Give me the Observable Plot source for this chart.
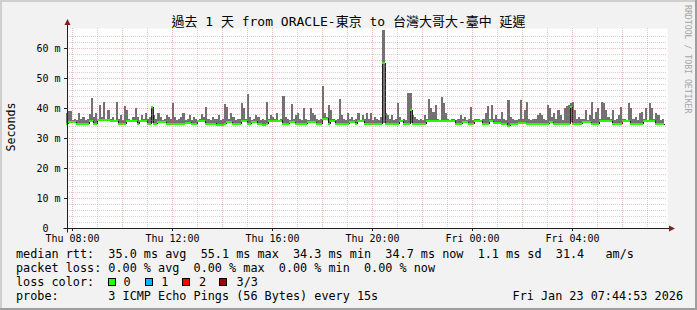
<!DOCTYPE html>
<html><head><meta charset="utf-8">
<script src="https://cdn.jsdelivr.net/npm/d3@7"></script>
<script src="https://cdn.jsdelivr.net/npm/@observablehq/plot@0.6"></script>
<style>
html,body{margin:0;padding:0;background:#f2f2f2;overflow:hidden;}
svg text{white-space:pre;}
</style>
</head><body><div id="chart"></div>
<script>
// ---- data (5-minute steps, values in ms) ----
const firstStepEnd = "2026-01-22T07:50:00Z";
const stepMinutes = 5;
const medianRtt = [
34.9,35.4,35.4,35.4,35.4,34.9,34.9,34.9,34.9,34.9,
34.9,35.8,35.8,34.9,34.9,36.3,36.3,36.3,36.3,36.3,
36.3,35.8,35.8,35.8,35.8,34.9,34.9,34.9,34.9,35.8,
35.8,35.8,35.8,35.8,34.9,36.0,36.0,36.0,36.0,34.9,
34.9,40.4,34.9,34.9,35.4,35.4,35.4,35.4,34.9,34.9,
34.9,34.9,34.9,34.9,34.9,34.9,34.9,35.2,35.2,35.2,
34.9,34.9,34.9,35.8,35.8,35.8,35.8,34.9,34.9,34.9,
34.9,34.9,34.6,34.6,34.6,34.6,34.9,35.4,35.4,35.4,
34.9,34.9,34.9,34.9,35.8,35.8,35.8,34.9,34.9,35.6,
35.6,35.6,34.9,34.9,34.6,34.6,34.9,36.0,36.0,36.0,
36.0,36.0,36.0,36.0,34.9,34.9,34.9,35.4,35.4,35.4,
34.9,34.9,34.9,34.9,34.9,34.9,35.4,35.4,35.4,35.4,
34.9,34.9,34.9,36.6,36.6,36.6,34.9,35.8,35.8,34.9,
34.9,34.9,34.9,34.9,34.9,34.9,35.4,35.4,35.4,34.9,
35.8,35.8,35.8,34.9,34.9,34.9,34.9,34.9,34.9,34.9,
34.9,34.9,55.1,34.9,34.9,34.9,34.9,34.9,34.9,34.9,
35.8,35.8,34.9,34.9,34.9,39.5,34.9,34.9,34.9,34.9,
34.9,34.9,34.9,35.8,35.8,35.8,36.0,36.0,36.0,36.0,
36.0,36.0,36.0,36.0,36.0,36.0,36.0,34.9,34.9,34.9,
35.4,35.4,35.4,34.9,34.9,34.9,35.8,35.8,35.8,35.8,
34.9,34.9,34.9,35.8,35.8,35.1,35.1,35.1,35.1,34.9,
34.9,34.9,34.3,34.9,34.9,34.9,34.9,35.1,35.1,35.1,
35.1,34.9,34.9,34.9,34.9,34.9,34.9,34.9,34.9,34.9,
34.9,34.9,35.4,35.4,34.9,34.9,34.9,34.9,34.9,34.9,
34.9,34.9,40.5,34.9,34.9,34.9,34.9,34.9,35.4,35.4,
35.4,35.4,34.9,34.9,34.9,34.9,35.8,35.8,35.8,35.8,
35.8,35.8,34.9,34.9,34.9,34.9,34.9,35.8,35.8,35.8,
35.8,34.9,34.9,34.9,34.9,34.9,34.9,36.0,36.0,36.0,
36.0,36.0,36.0,34.9,34.9,34.9,34.7
];
const maxRtt = [
38.5,39,39,36,36.5,36,38.2,36.5,37,36,
36.5,38,43.2,37,38.2,36.5,41,37,41.9,36.5,
39.3,36.5,37.1,36,42.1,36.5,37.7,36,40.8,39.3,
36.5,36,37.1,39.9,37,36,37.7,36.5,38.2,36.5,
37,40.7,37.7,36.5,38.2,37,36,36.5,37.7,37.1,
36.5,41.8,37,36,36.5,37,38.2,36,36.5,37.7,
36,37.1,36.5,36,36.5,38,37,40.4,36.5,36,
37.1,36.5,36.5,37.7,36,36.5,41.3,40.4,36.5,38.2,
37.1,36,36.5,36.5,41.8,39.9,36.5,44.7,37.1,36,
36.5,37.7,37.1,36,36.5,36,42.1,36.5,37.7,37.1,
36.5,38.2,36,36.5,44,37.1,36.5,36,41.3,36.5,
37.7,38.2,36.5,36,39.9,36.5,36,39.9,38.2,37.7,
36.5,36,36.5,47.5,38.2,37,41,39.3,36.5,36,
36.5,42.9,37.7,36.5,36,38.2,36.5,37.1,36,36.5,
38.2,36,37.7,36.5,38.2,36.5,38.2,36,37.1,36.5,
36,37.1,66,38.2,37.7,36.5,37.7,36,36.5,41.6,
37.1,36,36.5,36,45.1,44.9,37.7,37.1,36.5,36,
36.5,36,37.7,36.5,42.9,39.9,38.8,41,36.5,36,
43.8,41.8,38.2,36.5,36,36.5,36.5,36,36.5,37.7,
36.5,37.1,36,36.5,40.4,36,36.5,36.5,36.5,36,
36.5,38.2,40.7,36.5,41,36.5,37.7,36.5,36.5,38.8,
36.5,36,42.7,37.1,36.5,36,36,36.5,42.7,36.5,
39.3,42.1,36.5,36,36.5,36.5,37.7,38.2,37.7,36.5,
36,41,39.9,37.1,38.2,36.5,39.3,37.7,36,39.9,
40.7,41,41.6,42.1,39.3,36.5,37.1,36.5,36.5,39.3,
36,37.7,41.9,36.5,38.8,39.9,36.5,42.1,41.6,39.3,
37.1,36.5,39.3,36,36.5,37.7,40.4,36.5,36.5,36,
41.8,39.9,36.5,37.1,36,38.2,38.8,36.5,39.9,36,
41.8,39.9,36.5,38.2,37.7,36,36.5
];
const minRtt = [
34.5,34.9,35.0,34.9,35.0,34.5,34.6,34.5,34.5,34.4,
34.5,35.3,35.4,34.5,34.6,35.8,35.9,35.7,35.9,35.8,
35.9,35.3,35.4,35.3,35.5,34.5,34.6,34.4,34.5,35.3,
35.4,35.2,35.4,35.3,34.5,35.5,35.6,35.4,35.6,34.5,
34.4,35.1,34.5,34.6,34.9,35.0,34.9,35.0,34.5,34.5,
34.6,34.5,34.5,34.4,34.5,34.6,34.5,34.8,34.7,34.8,
34.5,34.6,34.5,35.3,35.4,35.3,35.4,34.5,34.6,34.5,
34.5,34.4,34.2,34.3,34.2,34.3,34.5,34.9,35.0,34.9,
34.5,34.6,34.5,34.5,35.3,35.4,35.3,34.5,34.6,35.2,
35.1,35.2,34.5,34.4,34.2,34.3,34.5,35.5,35.6,35.5,
35.6,35.5,35.6,35.5,34.5,34.6,34.5,34.9,35.0,34.9,
34.5,34.6,34.5,34.4,34.5,34.6,34.9,35.0,34.9,35.0,
34.5,34.4,34.5,36.1,36.2,36.1,34.5,35.3,35.4,34.5,
34.6,34.5,34.5,34.4,34.6,34.5,34.9,35.0,34.9,34.5,
35.3,35.4,35.3,34.5,34.6,34.5,34.5,34.4,34.5,34.6,
34.5,34.5,35.0,34.5,34.6,34.5,34.4,34.5,34.5,34.6,
35.3,35.4,34.5,34.6,34.5,35.0,34.5,34.4,34.5,34.6,
34.5,34.5,34.6,35.3,35.4,35.3,35.5,35.6,35.5,35.6,
35.5,35.6,35.5,35.6,35.5,35.6,35.5,34.5,34.4,34.5,
34.9,35.0,34.9,34.5,34.6,34.5,35.3,35.4,35.3,35.4,
34.5,34.6,34.5,35.3,35.4,34.7,34.6,34.7,34.6,34.5,
34.4,34.5,34.2,34.5,34.6,34.5,34.4,34.7,34.6,34.7,
34.6,34.5,34.4,34.5,34.6,34.5,34.5,34.4,34.5,34.6,
34.5,34.6,34.9,35.0,34.5,34.4,34.5,34.6,34.5,34.5,
34.4,34.5,35.2,34.5,34.6,34.5,34.4,34.5,34.9,35.0,
34.9,35.0,34.5,34.6,34.5,34.4,35.3,35.4,35.3,35.4,
35.3,35.4,34.5,34.6,34.5,34.4,34.5,35.3,35.4,35.3,
35.4,34.5,34.6,34.5,34.4,34.5,34.6,35.5,35.6,35.5,
35.6,35.5,35.6,34.5,34.4,34.5,34.4
];

// ---- axes / ticks / texts ----
const xDomain = ["2026-01-22T07:48:00Z", "2026-01-23T07:48:00Z"];
const yDomain = [0, 66.67];
const yMajorTicks = [0, 10, 20, 30, 40, 50, 60];
const yTickLabels = ["0\u00a0\u00a0", "10 m", "20 m", "30 m", "40 m", "50 m", "60 m"];
const xLabelTimes = ["2026-01-22T08:00:00Z","2026-01-22T12:00:00Z","2026-01-22T16:00:00Z","2026-01-22T20:00:00Z","2026-01-23T00:00:00Z","2026-01-23T04:00:00Z"];
const xTickLabels = ["Thu 08:00","Thu 12:00","Thu 16:00","Thu 20:00","Fri 00:00","Fri 04:00"];
const titleText = "過去 1 天 from ORACLE-東京 to 台灣大哥大-臺中 延遲";
const yAxisLabel = "Seconds";
const watermark = "RRDTOOL / TOBI OETIKER";
const legendLines = [
  "median rtt:  35.0 ms avg  55.1 ms max  34.3 ms min  34.7 ms now  1.1 ms sd  31.4   am/s",
  "packet loss: 0.00 % avg  0.00 % max  0.00 % min  0.00 % now",
  "loss color:",
  "probe:       3 ICMP Echo Pings (56 Bytes) every 15s"
];
const lossLabels = ["0", "1", "2", "3/3"];
const lossColors = ["#26ff00", "#00b8ff", "#ff0000", "#a00000"];
const dateStamp = "Fri Jan 23 07:44:53 2026";

// ---- build table ----
const t0ms = Date.parse(firstStepEnd);
const stepMs = stepMinutes * 60000;
const rows = medianRtt.map((m, i) => ({
  t: new Date(t0ms + i * stepMs),
  tPrev: new Date(t0ms + (i - 1) * stepMs),
  median: m, min: minRtt[i], max: maxRtt[i]
}));
const xStart = new Date(xDomain[0]), xEnd = new Date(xDomain[1]);
const hours = d3.utcHour.range(xStart, xEnd);
const xMajorGrid = hours.filter(d => d.getUTCHours() % 2 === 0);
const xMinorGrid = hours.filter(d => d.getUTCHours() % 2 === 1);
const yMinorGrid = d3.range(2, 66, 2).filter(v => v % 10 !== 0);
const yMajorGrid = yMajorTicks.filter(v => v > 0);
const xLabelDates = xLabelTimes.map(s => new Date(s));

const mono = "DejaVu Sans Mono";
const chart = Plot.plot({
  width: 697, height: 310,
  marginLeft: 67, marginRight: 30, marginTop: 28, marginBottom: 82,
  style: {background: "#f2f2f2", fontFamily: mono, fontSize: "10px", color: "#000", overflow: "visible"},
  x: {type: "utc", domain: [xStart, xEnd], axis: null},
  y: {domain: yDomain, axis: null},
  marks: [
    Plot.frame({fill: "#ffffff", stroke: null}),
    Plot.rect(rows, {x1: "tPrev", x2: "t", y1: "min", y2: "max", fill: "#717171", inset: 0, shapeRendering: "crispEdges"}),
    Plot.line(rows, {x: "t", y: "median", curve: "step-before", stroke: "#202020", strokeWidth: 1, shapeRendering: "crispEdges"}),
    Plot.ruleY(rows, {x1: "tPrev", x2: "t", y: "median", stroke: "#26ff00", strokeWidth: 2, shapeRendering: "crispEdges"}),
    Plot.ruleY(yMinorGrid, {stroke: "#8f8f8f", strokeOpacity: 0.4, strokeDasharray: "1,1"}),
    Plot.ruleX(xMinorGrid, {stroke: "#8f8f8f", strokeOpacity: 0.4, strokeDasharray: "1,1"}),
    Plot.ruleY(yMajorGrid, {stroke: "#e05050", strokeOpacity: 0.38, strokeDasharray: "1,1"}),
    Plot.ruleX(xMajorGrid, {stroke: "#e05050", strokeOpacity: 0.38, strokeDasharray: "1,1"}),
    Plot.axisY(yMajorTicks, {tickSize: 3, tickPadding: 4, fontSize: 10, stroke: "#1f1f1f",
      tickFormat: d => yTickLabels[yMajorTicks.indexOf(d)], label: null}),
    Plot.axisX(xLabelDates, {tickSize: 3, tickPadding: 3, fontSize: 10, stroke: "#1f1f1f",
      tickFormat: d => xTickLabels[xLabelDates.findIndex(e => +e === +d)], label: null})
  ]
});
document.getElementById("chart").appendChild(chart);

// ---- decorations (frame shading, axis lines, arrows, texts) ----
const svg = d3.select(chart);
const xs = chart.scale("x"), ys = chart.scale("y");
const ax = Math.round(xs.apply(xStart)) + 0.5;
const ay = Math.round(ys.apply(0)) + 0.5;
const axRight = Math.round(xs.apply(xEnd));
const axTop = Math.round(ys.apply(yDomain[1]));

svg.append("rect").attr("x", 0).attr("y", 0).attr("width", 697).attr("height", 2).attr("fill", "#cfcfcf");
svg.append("rect").attr("x", 0).attr("y", 0).attr("width", 2).attr("height", 310).attr("fill", "#cfcfcf");
svg.append("rect").attr("x", 0).attr("y", 308).attr("width", 697).attr("height", 2).attr("fill", "#9e9e9e");
svg.append("rect").attr("x", 695).attr("y", 0).attr("width", 2).attr("height", 310).attr("fill", "#9e9e9e");

svg.append("line").attr("x1", ax).attr("x2", ax).attr("y1", ay + 4).attr("y2", axTop - 4)
  .attr("stroke", "#1f1f1f");
svg.append("line").attr("x1", ax - 4).attr("x2", axRight + 3).attr("y1", ay).attr("y2", ay)
  .attr("stroke", "#1f1f1f");
svg.append("path").attr("d", `M${ax - 3},${axTop - 3}L${ax + 3},${axTop - 3}L${ax},${axTop - 9}Z`).attr("fill", "#801f1f");
svg.append("path").attr("d", `M${axRight + 2},${ay - 3}L${axRight + 2},${ay + 3}L${axRight + 8},${ay}Z`).attr("fill", "#801f1f");

svg.append("text").attr("x", 348.5).attr("y", 26).attr("text-anchor", "middle")
  .attr("font-family", `${mono}, "Noto Sans CJK TC"`).attr("font-size", 13).attr("fill", "#000")
  .text(titleText);
svg.append("text").attr("transform", "translate(15,127) rotate(-90)").attr("text-anchor", "middle")
  .attr("font-family", mono).attr("font-size", 11.6).attr("fill", "#000").text(yAxisLabel);
svg.append("text").attr("transform", "translate(685,5) rotate(90)").attr("text-anchor", "start")
  .attr("font-family", mono).attr("font-size", 8.2).attr("fill", "#a6a6a6").text(watermark);

const legendY = [258, 272, 286, 300];
legendLines.forEach((s, i) => {
  svg.append("text").attr("x", 16).attr("y", legendY[i]).attr("xml:space", "preserve")
    .attr("text-anchor", "start")
    .attr("font-family", mono).attr("font-size", 11.8).attr("fill", "#000").text(s);
});
lossLabels.forEach((lab, k) => {
  svg.append("rect").attr("x", 108.5 + 37 * k).attr("y", 278.5).attr("width", 7).attr("height", 7)
    .attr("fill", lossColors[k]).attr("stroke", "#000").attr("stroke-width", 1);
  svg.append("text").attr("x", 123.5 + 37.7 * k).attr("y", 286).attr("text-anchor", "start")
    .attr("font-family", mono).attr("font-size", 11.8).attr("fill", "#000").text(lab);
});
svg.append("text").attr("x", 683).attr("y", 300).attr("text-anchor", "end")
  .attr("font-family", mono).attr("font-size", 11.8).attr("fill", "#000").text(dateStamp);
</script>
</body></html>
